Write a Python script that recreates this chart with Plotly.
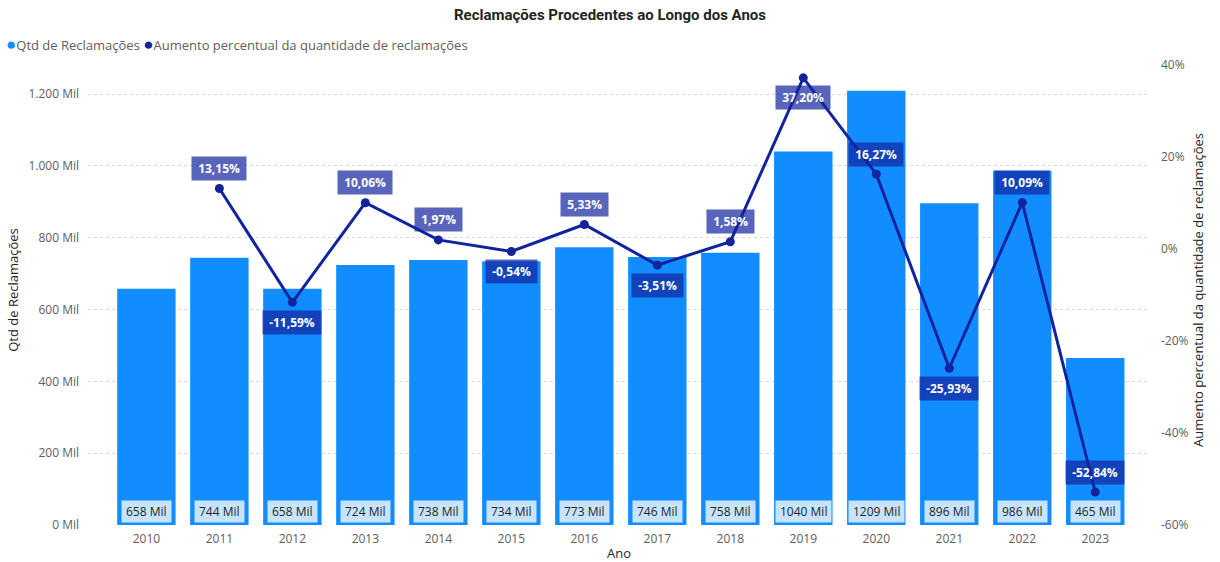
import plotly.graph_objects as go

# Annual complaint counts (thousands) and year-over-year change (%)
anos = ["2010", "2011", "2012", "2013", "2014", "2015", "2016",
        "2017", "2018", "2019", "2020", "2021", "2022", "2023"]
qtd_mil = [658, 744, 658, 724, 738, 734, 773, 746, 758, 1040, 1209, 896, 986, 465]
aumento_pct = [None, 13.15, -11.59, 10.06, 1.97, -0.54, 5.33,
               -3.51, 1.58, 37.20, 16.27, -25.93, 10.09, -52.84]
# label placement for the % labels: 1 = above the point, -1 = below
pos_label = [0, 1, -1, 1, 1, -1, 1, -1, 1, -1, 1, -1, 1, 1]

left_ticks = [0, 200, 400, 600, 800, 1000, 1200]
left_ticktext = ["0 Mil", "200 Mil", "400 Mil", "600 Mil", "800 Mil", "1.000 Mil", "1.200 Mil"]
right_ticks = [-60, -40, -20, 0, 20, 40]
right_ticktext = ["-60%", "-40%", "-20%", "0%", "20%", "40%"]

BAR = "#118DFF"
LINE = "#12239E"
FONT = "Open Sans, Noto Sans, sans-serif"
NOME_BARRA = "Qtd de Reclamações"
NOME_LINHA = "Aumento percentual da quantidade de reclamações"
NB = "&nbsp;"
THIN = "&#8201;"


def fmt_pct(v):
    return f"{v:.2f}".replace(".", ",") + "%"


fig = go.Figure()
fig.add_trace(go.Bar(
    x=anos, y=qtd_mil, name=NOME_BARRA,
    marker=dict(color=BAR, line=dict(width=0)),
    yaxis="y", showlegend=False,
))
fig.add_trace(go.Scatter(
    x=anos, y=aumento_pct, name=NOME_LINHA,
    mode="lines+markers", yaxis="y2",
    line=dict(color=LINE, width=3),
    marker=dict(color=LINE, size=9),
    connectgaps=False, showlegend=False,
))

annotations = []
# count labels at the base of each bar (category index positions)
for i, q in enumerate(qtd_mil):
    annotations.append(dict(
        x=i, y=0, xref="x", yref="y", text=f"{THIN}{q} Mil{THIN}", showarrow=False,
        yshift=14, font=dict(family=FONT, size=12, color="#252423"),
        bgcolor="rgba(255,255,255,0.76)", borderpad=2,
    ))
# percentage labels next to each line point
for i, (p, s) in enumerate(zip(aumento_pct, pos_label)):
    if p is None:
        continue
    annotations.append(dict(
        x=i, y=p, xref="x", yref="y2", text=f"{NB}<b>{fmt_pct(p)}</b>{NB}",
        showarrow=False, yshift=20 * s,
        font=dict(family=FONT, size=12, color="white"),
        bgcolor="rgba(18,35,158,0.70)", borderpad=3,
    ))
# legend row with round markers
annotations.append(dict(
    xref="paper", yref="paper", x=0, y=1, xanchor="left", yanchor="middle",
    xshift=-84, yshift=12, showarrow=False,
    text=(f"<span style='color:{BAR};font-size:17px'>●</span>{NOME_BARRA} "
          f"<span style='color:{LINE};font-size:17px'>●</span>{NOME_LINHA}"),
    font=dict(family=FONT, size=13, color="#605E5C"),
))

fig.update_layout(
    width=1220, height=562,
    margin=dict(l=88, r=70, t=55, b=37),
    paper_bgcolor="white", plot_bgcolor="white",
    font=dict(family=FONT, color="#605E5C"),
    bargap=0.2,
    showlegend=False,
    title=dict(text="<b>Reclamações Procedentes ao Longo dos Anos</b>",
               x=0.5, xanchor="center", y=1 - 15 / 562, yanchor="middle",
               font=dict(family="Roboto, sans-serif", size=15, color="#252423")),
    xaxis=dict(type="category", range=[-0.8, 13.75], showgrid=False, zeroline=False,
               showline=False, tickfont=dict(size=12, color="#605E5C"), ticks="",
               ticklabelstandoff=5,
               title=dict(text="Ano", font=dict(size=13, color="#252423"), standoff=3),
               automargin=False),
    yaxis=dict(range=[0, 1308.6], tickvals=left_ticks, ticktext=left_ticktext,
               showgrid=True, gridcolor="#DADADA", griddash="dot", gridwidth=1,
               zeroline=False, showline=False, ticks="", ticklabelstandoff=8,
               tickfont=dict(size=12, color="#605E5C"),
               title=dict(text=NOME_BARRA, font=dict(size=13, color="#252423"),
                          standoff=6),
               automargin=False),
    yaxis2=dict(range=[-60, 42.17], tickvals=right_ticks, ticktext=right_ticktext,
                overlaying="y", side="right", showgrid=False, zeroline=False,
                showline=False, ticks="", ticklabelstandoff=10,
                tickfont=dict(size=12, color="#605E5C"),
                title=dict(text=NOME_LINHA,
                           font=dict(size=13, color="#252423"), standoff=6),
                automargin=False),
    annotations=annotations,
)

fig.write_html("out.html")
